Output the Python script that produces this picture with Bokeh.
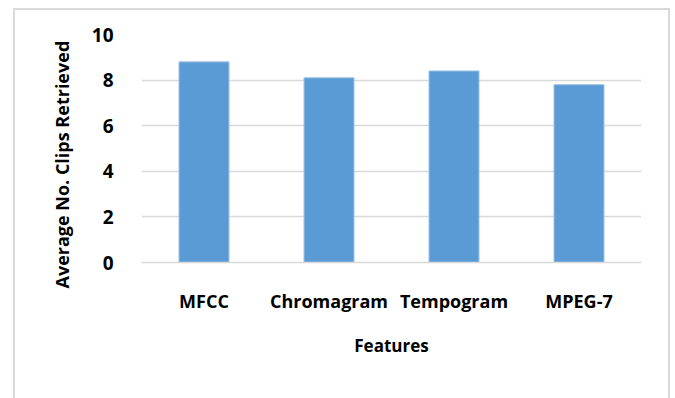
from bokeh.plotting import figure
from bokeh.models import FactorRange, Range1d, FixedTicker, Title
from bokeh.embed import file_html
from bokeh.resources import INLINE

features = ["MFCC", "Chromagram", "Tempogram", "MPEG-7"]
avg_clips = [8.8, 8.1, 8.4, 7.8]
y_ticks = [0, 2, 4, 6, 8, 10]

FONT = "Open Sans"
GRID = "#d9d9d9"

p = figure(
    x_range=FactorRange(*features, range_padding=0),
    y_range=Range1d(0, 10),
    width=657, height=390,
    output_backend="svg", toolbar_location=None,
    min_border_left=126, min_border_right=31,
    min_border_top=24, min_border_bottom=138,
)
p.margin = (8, 0, 0, 13)
p.styles = {
    "border-top": f"2px solid {GRID}",
    "border-left": f"2px solid {GRID}",
    "border-right": f"2px solid {GRID}",
    "box-sizing": "border-box",
}
p.outline_line_color = None
p.background_fill_color = "white"
p.border_fill_color = "white"

p.vbar(x=features, top=avg_clips, width=0.4,
       fill_color="#5b9bd5", line_color="#9dc3e6", line_width=1)

# grid
p.xgrid.grid_line_color = None
p.ygrid.grid_line_color = GRID
p.ygrid.grid_line_width = 1.5
p.yaxis.ticker = FixedTicker(ticks=y_ticks)

# y axis
p.yaxis.axis_line_color = None
p.yaxis.major_tick_line_color = None
p.yaxis.minor_tick_line_color = None
p.yaxis.major_label_standoff = 22
p.yaxis.major_label_text_font = FONT
p.yaxis.major_label_text_font_style = "bold"
p.yaxis.major_label_text_font_size = "19px"
p.yaxis.major_label_text_color = "black"

# x axis
p.xaxis.axis_line_color = GRID
p.xaxis.axis_line_width = 1.5
p.xaxis.major_tick_line_color = None
p.xaxis.minor_tick_line_color = None
p.xaxis.major_label_standoff = 20
p.xaxis.major_label_text_font = FONT
p.xaxis.major_label_text_font_style = "bold"
p.xaxis.major_label_text_font_size = "18px"
p.xaxis.major_label_text_color = "black"
p.xaxis.axis_label = "Features"
p.xaxis.axis_label_standoff = 18
p.xaxis.axis_label_text_font = FONT
p.xaxis.axis_label_text_font_style = "bold"
p.xaxis.axis_label_text_font_size = "17px"
p.xaxis.axis_label_text_color = "black"

# vertical axis title, sitting left of the tick labels
ytitle = Title(
    text="Average No. Clips Retrieved", align="left", offset=-26,
    standoff=30, text_font=FONT, text_font_style="bold",
    text_font_size="18px", text_color="black",
)
p.add_layout(ytitle, "left")

open("out.html", "w").write(file_html(p, INLINE))
